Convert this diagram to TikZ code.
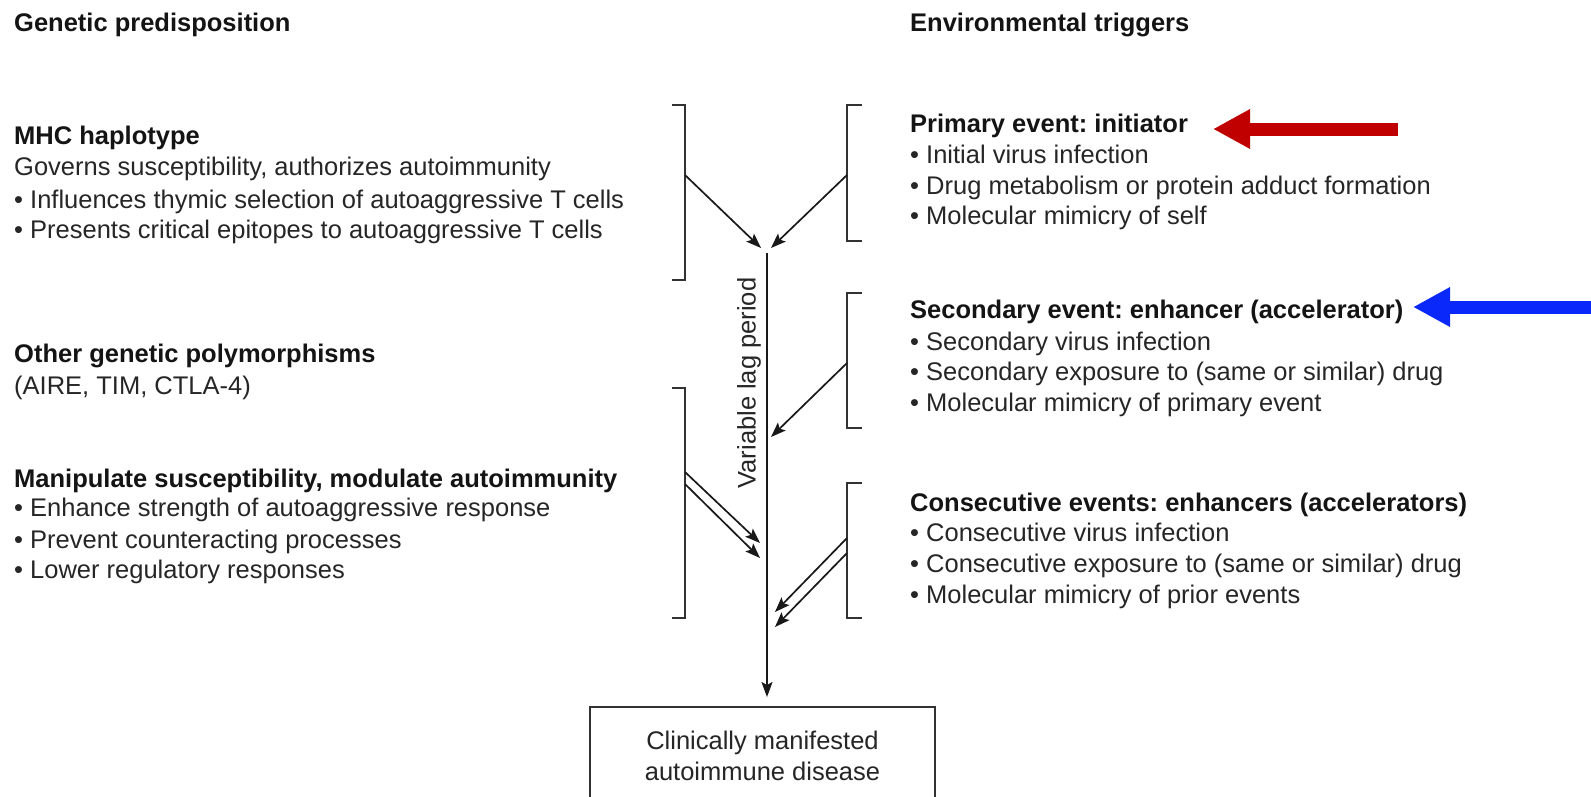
\documentclass[tikz,border=0pt]{standalone}
\usepackage{fontspec}
\setmainfont{Liberation Sans}
\usetikzlibrary{arrows.meta}
\definecolor{txtc}{RGB}{38,38,38}
\definecolor{hdc}{RGB}{20,20,20}
\definecolor{brc}{RGB}{50,50,50}
\definecolor{arc}{RGB}{25,25,25}
\definecolor{myred}{RGB}{192,0,0}
\definecolor{myblue}{RGB}{10,40,250}
\frenchspacing
\begin{document}
\begin{tikzpicture}[x=1pt,y=-1pt,
  txt/.style={anchor=base west, inner sep=0pt, font=\fontsize{25.5}{30.5}\selectfont, text=txtc},
  hd/.style={anchor=base west, inner sep=0pt, font=\fontsize{25.5}{30.5}\selectfont\bfseries, text=hdc},
  brk/.style={draw=brc, line width=2pt},
  arr/.style={draw=arc, line width=1.7pt, -{Stealth[length=15pt,width=11pt,inset=3pt]}},
  fat/.style={line width=13pt, -{Triangle[length=37pt,width=37pt]}}
]
\useasboundingbox (0,0) rectangle (1591,796);
\fill[white] (0,0) rectangle (1591,796);

% left column
\node[hd]  (gp)  at (14,31)  {Genetic predisposition};
\node[hd]  (mhc) at (14,144) {MHC haplotype};
\node[txt] (mhc1) at (14,175) {Governs susceptibility, authorizes autoimmunity};
\node[txt] (mhc2) at (14,208) {• Influences thymic selection of autoaggressive T cells};
\node[txt] (mhc3) at (14,238) {• Presents critical epitopes to autoaggressive T cells};
\node[hd]  (ogp) at (14,362) {Other genetic polymorphisms};
\node[txt] (ogp1) at (14,394) {(AIRE, TIM, CTLA-4)};
\node[hd]  (man) at (14,487) {Manipulate susceptibility, modulate autoimmunity};
\node[txt] (man1) at (14,516) {• Enhance strength of autoaggressive response};
\node[txt] (man2) at (14,548) {• Prevent counteracting processes};
\node[txt] (man3) at (14,578) {• Lower regulatory responses};

% right column
\node[hd]  (et)  at (910,31)  {Environmental triggers};
\node[hd]  (pe)  at (910,132) {Primary event: initiator};
\node[txt] (pe1) at (910,163) {• Initial virus infection};
\node[txt] (pe2) at (910,194) {• Drug metabolism or protein adduct formation};
\node[txt] (pe3) at (910,224) {• Molecular mimicry of self};
\node[hd]  (se)  at (910,318) {Secondary event: enhancer (accelerator)};
\node[txt] (se1) at (910,350) {• Secondary virus infection};
\node[txt] (se2) at (910,380) {• Secondary exposure to (same or similar) drug};
\node[txt] (se3) at (910,411) {• Molecular mimicry of primary event};
\node[hd]  (ce)  at (910,511) {Consecutive events: enhancers (accelerators)};
\node[txt] (ce1) at (910,541) {• Consecutive virus infection};
\node[txt] (ce2) at (910,572) {• Consecutive exposure to (same or similar) drug};
\node[txt] (ce3) at (910,603) {• Molecular mimicry of prior events};

% brackets
\draw[brk] (672,105) -- (685,105) -- (685,280) -- (672,280);
\draw[brk] (672,388) -- (685,388) -- (685,618) -- (672,618);
\draw[brk] (862,105) -- (847,105) -- (847,241) -- (862,241);
\draw[brk] (862,293) -- (847,293) -- (847,428) -- (862,428);
\draw[brk] (862,483) -- (847,483) -- (847,618) -- (862,618);

% coordinates
\coordinate (la) at (685,175);
\coordinate (ra) at (847,175);
\coordinate (rb) at (847,363);
\coordinate (lc1) at (685,472);
\coordinate (lc2) at (685,484);
\coordinate (rc1) at (847,538);
\coordinate (rc2) at (847,553);
\coordinate (ta) at (761,248);
\coordinate (tb) at (771,248);
\coordinate (tc) at (771,437);
\coordinate (td1) at (760,543);
\coordinate (td2) at (760,558);
\coordinate (te1) at (775,612);
\coordinate (te2) at (775,627);
\coordinate (mtop) at (767,253);
\coordinate (mend) at (767,697);

% box
\node[draw=brc, line width=1.6pt, minimum width=345pt, minimum height=97pt, inner sep=0pt,
      align=center, font=\fontsize{25.5}{31}\selectfont, text=txtc] (box) at (762.5,755.5)
  {Clinically manifested\\autoimmune disease};

% arrows
\draw[arr] (la) -- (ta);
\draw[arr] (ra) -- (tb);
\draw[arr] (rb) -- (tc);
\draw[arr] (lc1) -- (td1);
\draw[arr] (lc2) -- (td2);
\draw[arr] (rc1) -- (te1);
\draw[arr] (rc2) -- (te2);
\draw[arr] (mtop) -- (mend);

\node[rotate=90, inner sep=0pt, font=\fontsize{25.5}{30.5}\selectfont, text=txtc] (lag) at (749,383) {Variable lag period};

% colored arrows
\coordinate (redtail) at (1398,129);
\coordinate (redtip) at (1213,129);
\draw[fat, draw=myred, fill=myred] (redtail) -- (redtip);
\coordinate (bluetail) at (1600,307);
\coordinate (bluetip) at (1413,307);
\draw[fat, draw=myblue, fill=myblue] (bluetail) -- (bluetip);
\end{tikzpicture}
\end{document}
